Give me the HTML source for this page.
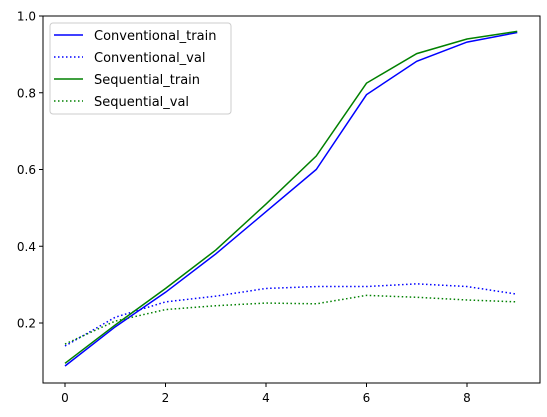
<!DOCTYPE html>
<html><head><meta charset="utf-8"><style>body{margin:0;background:#fff}svg{display:block;font-family:"DejaVu Sans","Liberation Sans",sans-serif}</style></head>
<body>
<svg width="547" height="417" id="c">
<rect x="43" y="16" width="497" height="367" fill="none" stroke="#000" stroke-width="1"/>
<g id="axes"></g><g id="series"></g>
<g>
<rect x="50" y="23" width="181" height="91" rx="3" fill="#fff" fill-opacity="0.8" stroke="#ccc"/>
<line x1="54" y1="35" x2="83" y2="35" stroke="blue" stroke-width="1.5"/>
<text x="94" y="40" font-size="13">Conventional_train</text>
<line x1="54" y1="57" x2="83" y2="57" stroke="blue" stroke-width="1.5" stroke-dasharray="1.5,2.5"/>
<text x="94" y="62" font-size="13">Conventional_val</text>
<line x1="54" y1="79" x2="83" y2="79" stroke="green" stroke-width="1.5"/>
<text x="94" y="84" font-size="13">Sequential_train</text>
<line x1="54" y1="101" x2="83" y2="101" stroke="green" stroke-width="1.5" stroke-dasharray="1.5,2.5"/>
<text x="94" y="106" font-size="13">Sequential_val</text>
</g>
</svg>
<script>
const epochs=[0,1,2,3,4,5,6,7,8,9];
const convTrain=[0.088,0.19,0.28,0.38,0.49,0.60,0.795,0.882,0.932,0.957];
const convVal=[0.14,0.215,0.255,0.27,0.29,0.295,0.295,0.302,0.295,0.275];
const seqTrain=[0.095,0.195,0.29,0.39,0.51,0.635,0.825,0.902,0.94,0.96];
const seqVal=[0.145,0.205,0.235,0.245,0.252,0.25,0.272,0.267,0.26,0.255];
const xTicks=[0,2,4,6,8];
const yTicks=[0.2,0.4,0.6,0.8,1.0];
const NS="http://www.w3.org/2000/svg";
function X(v){return 65+v*50.25;}
function Y(v){return 16+(1-v)*383.75;}
const ax=document.getElementById('axes');
xTicks.forEach(t=>{
 const l=document.createElementNS(NS,'line');l.setAttribute('x1',X(t));l.setAttribute('x2',X(t));l.setAttribute('y1',383);l.setAttribute('y2',387);l.setAttribute('stroke','#000');
 
 ax.appendChild(l);
 const s=document.createElementNS(NS,'text');s.setAttribute('x',X(t));s.setAttribute('y',402);s.setAttribute('font-size','12');s.setAttribute('text-anchor','middle');s.textContent=t;
 
 ax.appendChild(s);
});
yTicks.forEach(t=>{
 const l=document.createElementNS(NS,'line');l.setAttribute('x1',39);l.setAttribute('x2',43);l.setAttribute('y1',Y(t));l.setAttribute('y2',Y(t));l.setAttribute('stroke','#000');
 
 ax.appendChild(l);
 const s=document.createElementNS(NS,'text');s.setAttribute('x',36);s.setAttribute('y',Y(t)+4.5);s.setAttribute('font-size','12');s.setAttribute('text-anchor','end');s.textContent=t.toFixed(1);
 
 ax.appendChild(s);
});
const sg=document.getElementById('series');
[[convTrain,'blue',null,'conventional-train-line'],[convVal,'blue','1.5,2.5','conventional-val-line'],[seqTrain,'green',null,'sequential-train-line'],[seqVal,'green','1.5,2.5','sequential-val-line']].forEach(([d,c,da,n])=>{
 const p=document.createElementNS(NS,'polyline');
 p.setAttribute('points',d.map((v,i)=>X(epochs[i])+','+Y(v)).join(' '));
 p.setAttribute('fill','none');p.setAttribute('stroke',c);p.setAttribute('stroke-width','1.5');
 if(da)p.setAttribute('stroke-dasharray',da);
 
 
 sg.appendChild(p);
});
</script>
</body></html>
